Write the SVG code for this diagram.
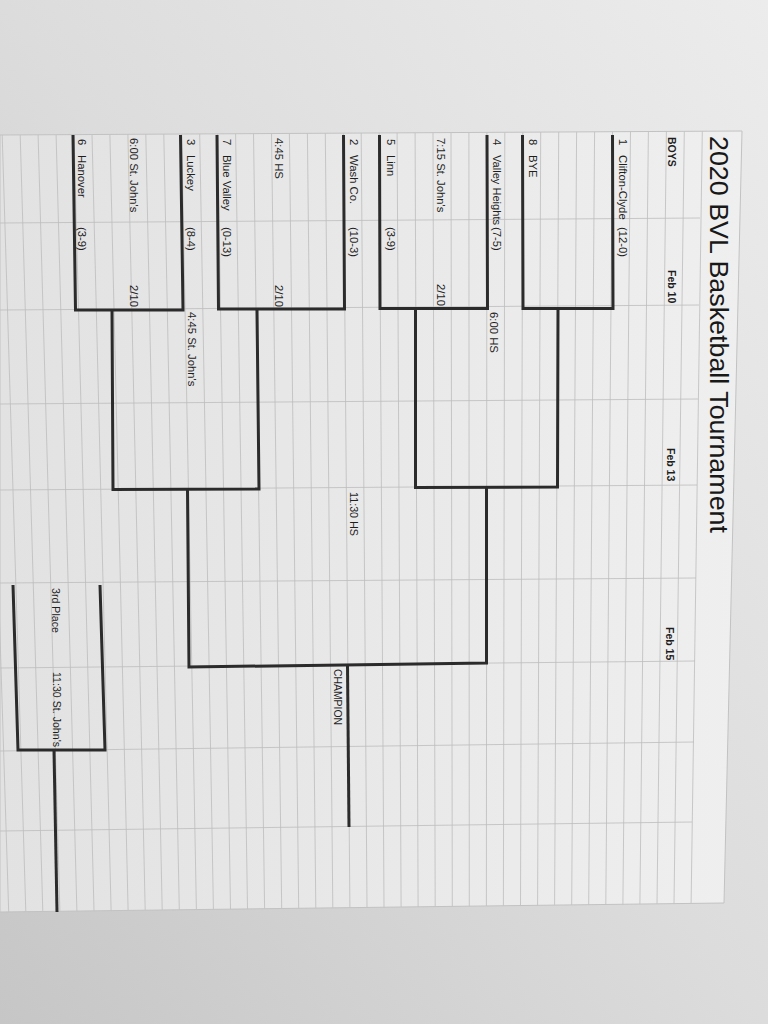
<svg xmlns="http://www.w3.org/2000/svg" width="768" height="1024" viewBox="0 0 768 1024">
<defs>
<linearGradient id="bg" x1="0" y1="1" x2="1" y2="0">
<stop offset="0" stop-color="#c6c6c6"/>
<stop offset="0.5" stop-color="#dcdcdc"/>
<stop offset="1" stop-color="#ececec"/>
</linearGradient>
<linearGradient id="paper" x1="0" y1="0" x2="1" y2="0">
<stop offset="0" stop-color="#e2e2e2"/>
<stop offset="1" stop-color="#efefef"/>
</linearGradient>
<style>
.t{font-family:"Liberation Sans",Arial,sans-serif;font-size:11.3px;fill:#1e1e1e}
.h{font-weight:bold;font-size:10.5px}
.ti{font-size:25px;fill:#181818}
.br{fill:none;stroke:#2b2b2b;stroke-width:3;stroke-linejoin:miter}
.g line{stroke:#bdbdbd;stroke-width:0.8}
.edge{fill:none;stroke:#c2c2c2;stroke-width:1}
</style>
</defs>

<rect x="0" y="0" width="768" height="1024" fill="url(#bg)"/>
<polygon points="0,135 742,131 724,903 0,912" fill="url(#paper)"/>

<g class="g" id="grid">
<line x1="-15.75" y1="135" x2="8.7" y2="912"/>
<line x1="2.2" y1="135" x2="25.8" y2="911.7"/>
<line x1="20.2" y1="135" x2="42.8" y2="911.5"/>
<line x1="38.1" y1="135" x2="59.9" y2="911.3"/>
<line x1="56.1" y1="135" x2="76.9" y2="911"/>
<line x1="74" y1="134.6" x2="94" y2="910.8"/>
<line x1="92" y1="134.5" x2="111.1" y2="910.6"/>
<line x1="109.9" y1="134.4" x2="128.1" y2="910.4"/>
<line x1="127.9" y1="134.3" x2="145.2" y2="910.2"/>
<line x1="145.8" y1="134.2" x2="162.2" y2="910"/>
<line x1="163.8" y1="134.1" x2="179.3" y2="909.8"/>
<line x1="181.7" y1="134" x2="196.4" y2="909.6"/>
<line x1="199.7" y1="133.9" x2="213.4" y2="909.4"/>
<line x1="217.6" y1="133.8" x2="230.5" y2="909.1"/>
<line x1="235.6" y1="133.7" x2="247.5" y2="908.9"/>
<line x1="253.5" y1="133.6" x2="264.6" y2="908.7"/>
<line x1="271.5" y1="133.5" x2="281.7" y2="908.5"/>
<line x1="289.4" y1="133.4" x2="298.7" y2="908.3"/>
<line x1="307.4" y1="133.3" x2="315.8" y2="908.1"/>
<line x1="325.3" y1="133.2" x2="332.8" y2="907.9"/>
<line x1="343.3" y1="133.1" x2="349.9" y2="907.7"/>
<line x1="361.2" y1="133" x2="367" y2="907.5"/>
<line x1="379.2" y1="132.9" x2="384" y2="907.2"/>
<line x1="397.1" y1="132.9" x2="401.1" y2="907"/>
<line x1="415.1" y1="132.8" x2="418.1" y2="906.8"/>
<line x1="433" y1="132.7" x2="435.2" y2="906.6"/>
<line x1="451" y1="132.6" x2="452.3" y2="906.4"/>
<line x1="468.9" y1="132.5" x2="469.3" y2="906.2"/>
<line x1="486.9" y1="132.4" x2="486.4" y2="906"/>
<line x1="504.8" y1="132.3" x2="503.4" y2="905.8"/>
<line x1="522.8" y1="132.2" x2="520.5" y2="905.5"/>
<line x1="540.7" y1="132.1" x2="537.6" y2="905.3"/>
<line x1="558.7" y1="132" x2="554.6" y2="905.1"/>
<line x1="576.6" y1="131.9" x2="571.7" y2="904.9"/>
<line x1="594.6" y1="131.8" x2="588.7" y2="904.7"/>
<line x1="612.5" y1="131.7" x2="605.8" y2="904.5"/>
<line x1="630.5" y1="131.6" x2="622.9" y2="904.3"/>
<line x1="648.4" y1="131.5" x2="639.9" y2="904.1"/>
<line x1="666.4" y1="131.4" x2="657" y2="903.9"/>
<line x1="684.3" y1="131.3" x2="674" y2="903.6"/>
<line x1="702.3" y1="131.2" x2="691.1" y2="903.4"/>
<line x1="0" y1="223" x2="700" y2="218"/>
<line x1="0" y1="310" x2="699" y2="305"/>
<line x1="0" y1="404" x2="698" y2="399"/>
<line x1="0" y1="490" x2="697" y2="485"/>
<line x1="0" y1="583" x2="696" y2="578"/>
<line x1="0" y1="668" x2="695" y2="661"/>
<line x1="0" y1="751" x2="694" y2="742"/>
<line x1="0" y1="831" x2="692" y2="822"/>
</g>
<polygon class="edge" points="0,135 742,131 724,903 0,912"/>

<g id="connectors">
<path class="br" d="M612.5,135 L613,308.5 L523,308.5 L522.5,135"/>
<path class="br" d="M487,135 L487.5,308.5 L380,308.5 L379.5,135"/>
<path class="br" d="M343.5,135 L344.5,309 L218.5,309 L217,135"/>
<path class="br" d="M180.5,135 L183,310 L75.5,310 L73,135"/>
<path class="br" d="M558,308.5 L557.5,487 L415.5,487.5 L415.5,308.5"/>
<path class="br" d="M257,309 L259,489 L113,489.5 L112,310"/>
<path class="br" d="M486.5,487 L486.5,663 L189,667 L187.5,489.5"/>
<path class="br" d="M347.5,665 L349,827"/>
<path class="br" d="M13,585 L18,750 L105,750 L100,585"/>
<path class="br" d="M54,750 L57,912"/>
</g>

<g id="title"><text class="t ti" transform="translate(710,136) rotate(90)" textLength="397" lengthAdjust="spacingAndGlyphs">2020 BVL Basketball Tournament</text></g>
<g id="hdr-boys"><text class="t h" transform="translate(668,137) rotate(90)">BOYS</text></g>
<g id="hdr-feb10"><text class="t h" transform="translate(668,270) rotate(90)">Feb 10</text></g>
<g id="hdr-feb13"><text class="t h" transform="translate(667,448) rotate(90)">Feb 13</text></g>
<g id="hdr-feb15"><text class="t h" transform="translate(666,627) rotate(90)">Feb 15</text></g>

<g id="team-1">
<text class="t" transform="translate(619,139) rotate(90)">1</text>
<text class="t" transform="translate(619,155) rotate(90)">Clifton-Clyde</text>
<text class="t" transform="translate(619,227) rotate(90)">(12-0)</text>
</g>
<g id="team-8">
<text class="t" transform="translate(529,139) rotate(90)">8</text>
<text class="t" transform="translate(529,155) rotate(90)">BYE</text>
</g>
<g id="team-4">
<text class="t" transform="translate(493,139) rotate(90)">4</text>
<text class="t" transform="translate(493,155) rotate(90)" textLength="70" lengthAdjust="spacingAndGlyphs">Valley Heights</text>
<text class="t" transform="translate(493,227) rotate(90)">(7-5)</text>
</g>
<g id="game-1">
<text class="t" transform="translate(437,138) rotate(90)">7:15 St. John's</text>
<text class="t" transform="translate(437,284) rotate(90)">2/10</text>
</g>
<g id="team-5">
<text class="t" transform="translate(387,139) rotate(90)">5</text>
<text class="t" transform="translate(387,155) rotate(90)">Linn</text>
<text class="t" transform="translate(387,227) rotate(90)">(3-9)</text>
</g>
<g id="team-2">
<text class="t" transform="translate(350,139) rotate(90)">2</text>
<text class="t" transform="translate(350,155) rotate(90)">Wash Co.</text>
<text class="t" transform="translate(350,227) rotate(90)">(10-3)</text>
</g>
<g id="game-2">
<text class="t" transform="translate(275,138) rotate(90)">4:45 HS</text>
<text class="t" transform="translate(275,285) rotate(90)">2/10</text>
</g>
<g id="team-7">
<text class="t" transform="translate(223,139) rotate(90)">7</text>
<text class="t" transform="translate(223,155) rotate(90)">Blue Valley</text>
<text class="t" transform="translate(223,227) rotate(90)">(0-13)</text>
</g>
<g id="team-3">
<text class="t" transform="translate(187,139) rotate(90)">3</text>
<text class="t" transform="translate(187,155) rotate(90)">Luckey</text>
<text class="t" transform="translate(187,227) rotate(90)">(8-4)</text>
</g>
<g id="game-3">
<text class="t" transform="translate(130,138) rotate(90)">6:00 St. John's</text>
<text class="t" transform="translate(130,285) rotate(90)">2/10</text>
</g>
<g id="team-6">
<text class="t" transform="translate(78,139) rotate(90)">6</text>
<text class="t" transform="translate(78,155) rotate(90)">Hanover</text>
<text class="t" transform="translate(78,227) rotate(90)">(3-9)</text>
</g>

<g id="semi-1"><text class="t" transform="translate(490,312) rotate(90)">6:00 HS</text></g>
<g id="semi-2"><text class="t" transform="translate(188,312) rotate(90)">4:45 St. John's</text></g>
<g id="final"><text class="t" transform="translate(350,492) rotate(90)" textLength="44" lengthAdjust="spacingAndGlyphs">11:30 HS</text></g>
<g id="champion"><text class="t" transform="translate(334,669) rotate(90)" font-size="11" textLength="56" lengthAdjust="spacingAndGlyphs">CHAMPION</text></g>
<g id="third-place">
<text class="t" transform="translate(52,588) rotate(90)" textLength="45" lengthAdjust="spacingAndGlyphs">3rd Place</text>
<text class="t" transform="translate(53,672) rotate(90)" textLength="75" lengthAdjust="spacingAndGlyphs">11:30 St. John's</text>
</g>
</svg>
